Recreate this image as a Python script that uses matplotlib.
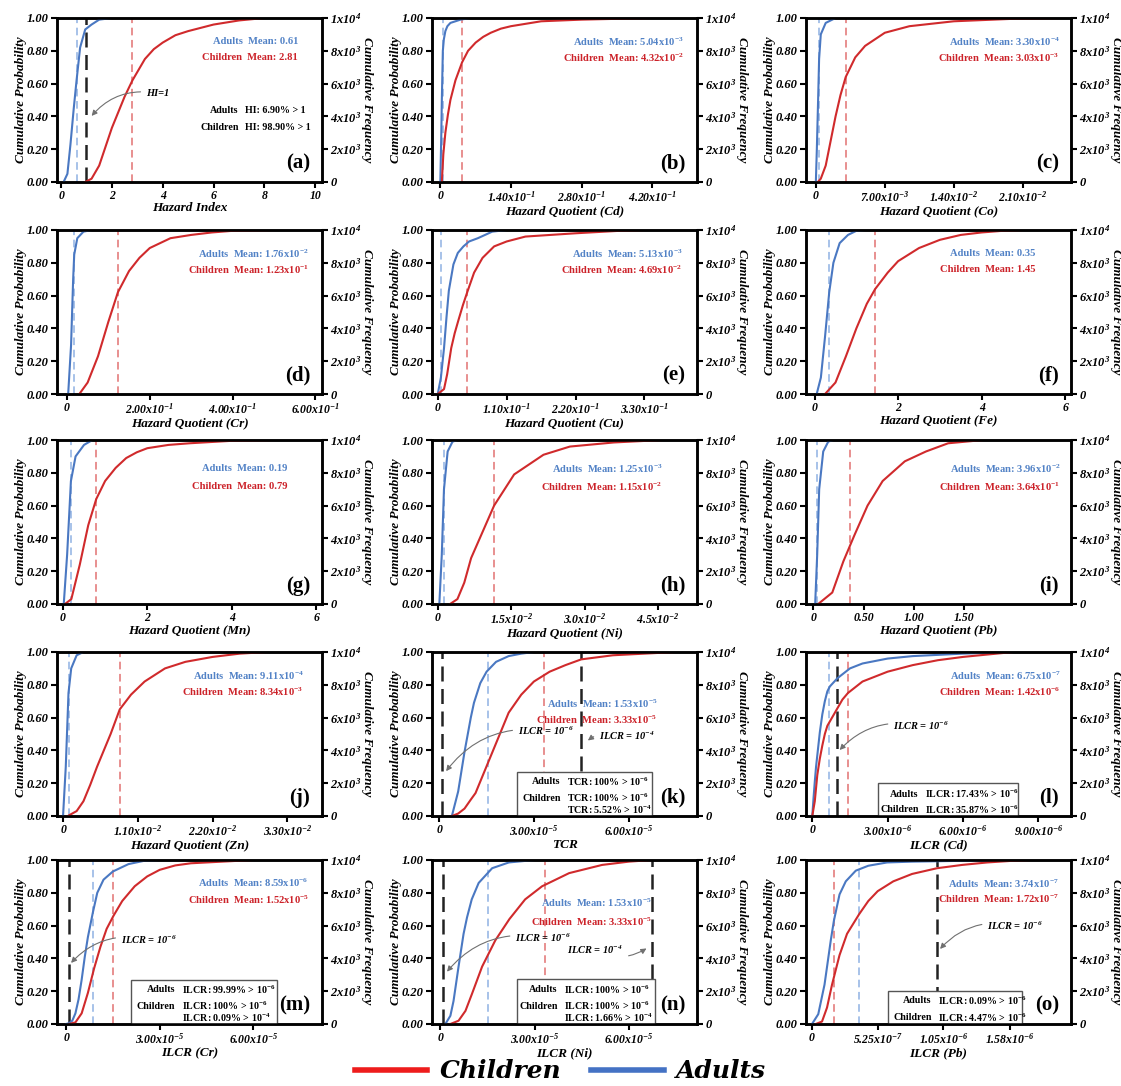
import matplotlib
matplotlib.use("Agg")
import matplotlib.pyplot as plt
import numpy as np
from matplotlib.lines import Line2D
from matplotlib.patches import Rectangle

plt.rcParams["font.family"] = "Liberation Serif"
plt.rcParams["mathtext.default"] = "regular"

# ---------------------------------------------------------------- data
panel_keys = list("abcdefghijklmno")
x_titles = ["Hazard Index", "Hazard Quotient (Cd)", "Hazard Quotient (Co)",
            "Hazard Quotient (Cr)", "Hazard Quotient (Cu)", "Hazard Quotient (Fe)",
            "Hazard Quotient (Mn)", "Hazard Quotient (Ni)", "Hazard Quotient (Pb)",
            "Hazard Quotient (Zn)", "TCR", "ILCR (Cd)", "ILCR (Cr)", "ILCR (Ni)",
            "ILCR (Pb)"]

adults_mean = [0.61, 5.04e-3, 3.30e-4, 1.76e-2, 5.13e-3, 0.35, 0.19, 1.25e-3,
               3.96e-2, 9.11e-4, 1.53e-5, 6.75e-7, 8.59e-6, 1.53e-5, 3.74e-7]
children_mean = [2.81, 4.32e-2, 3.03e-3, 1.23e-1, 4.69e-2, 1.45, 0.79, 1.15e-2,
                 3.64e-1, 8.34e-3, 3.33e-5, 1.42e-6, 1.52e-5, 3.33e-5, 1.72e-7]
plain_means = ["a", "f", "g"]

# cumulative probability curves (x, p)
a_adults_x = [0.1, 0.25, 0.37, 0.5, 0.61, 0.75, 0.95, 1.2, 1.5, 2.0]
a_adults_p = [0, 0.05, 0.23, 0.45, 0.62, 0.82, 0.93, 0.96, 0.99, 1.0]
a_children_x = [0.95, 1.2, 1.5, 2.0, 2.5, 2.81, 3.3, 3.65, 4.0, 4.5, 5.0, 6.0,
                7.0, 8.0]
a_children_p = [0, 0.02, 0.1, 0.33, 0.52, 0.62, 0.75, 0.81, 0.85, 0.895, 0.92,
                0.96, 0.985, 1.0]

b_adults_x = [0, 0.002, 0.003, 0.005, 0.007, 0.01, 0.014, 0.02, 0.04, 0.06]
b_adults_p = [0, 0.3, 0.5, 0.8, 0.87, 0.92, 0.95, 0.97, 0.99, 1.0]
b_children_x = [0.003, 0.006, 0.01, 0.015, 0.02, 0.03, 0.0432, 0.055, 0.07, 0.085,
                0.1, 0.12, 0.14, 0.2, 0.28, 0.35, 0.42]
b_children_p = [0, 0.17, 0.3, 0.41, 0.5, 0.62, 0.73, 0.8, 0.85, 0.885, 0.91,
                0.935, 0.95, 0.98, 0.99, 0.995, 1.0]

c_adults_x = [0, 1e-4, 2.5e-4, 3.3e-4, 5e-4, 1e-3, 2e-3]
c_adults_p = [0, 0.2, 0.55, 0.75, 0.9, 0.97, 1.0]
c_children_x = [2e-4, 5e-4, 1e-3, 1.5e-3, 2e-3, 2.5e-3, 3.03e-3, 4e-3, 5e-3,
                7e-3, 9.5e-3, 1.4e-2, 2e-2, 2.5e-2]
c_children_p = [0, 0.02, 0.1, 0.25, 0.4, 0.53, 0.64, 0.76, 0.83, 0.91, 0.95,
                0.98, 0.995, 1.0]

d_adults_x = [0.003, 0.01, 0.015, 0.0176, 0.025, 0.04, 0.06]
d_adults_p = [0, 0.3, 0.7, 0.85, 0.95, 0.99, 1.0]
d_children_x = [0.03, 0.05, 0.075, 0.1, 0.123, 0.15, 0.175, 0.2, 0.25, 0.3, 0.35,
                0.4, 0.5]
d_children_p = [0, 0.07, 0.23, 0.44, 0.62, 0.75, 0.83, 0.89, 0.95, 0.97, 0.985,
                0.995, 1.0]

e_adults_x = [0, 0.005, 0.01, 0.014, 0.0177, 0.025, 0.032, 0.041, 0.05, 0.064,
              0.087, 0.11]
e_adults_p = [0, 0.1, 0.28, 0.47, 0.63, 0.79, 0.86, 0.9, 0.93, 0.95, 0.99, 1.0]
e_children_x = [0, 0.01, 0.015, 0.0215, 0.027, 0.033, 0.04, 0.047, 0.058, 0.0715,
                0.09, 0.11, 0.14, 0.22, 0.29, 0.33]
e_children_p = [0, 0.03, 0.12, 0.28, 0.37, 0.45, 0.54, 0.62, 0.74, 0.83, 0.9,
                0.93, 0.96, 0.98, 0.995, 1.0]

f_adults_x = [0.05, 0.15, 0.25, 0.35, 0.45, 0.6, 0.8, 1.0, 1.2]
f_adults_p = [0, 0.1, 0.35, 0.62, 0.8, 0.92, 0.97, 0.995, 1.0]
f_children_x = [0.25, 0.5, 0.75, 1.0, 1.25, 1.45, 1.75, 2.0, 2.5, 3.0, 3.5, 4.0,
                4.5, 5.0]
f_children_p = [0, 0.07, 0.23, 0.4, 0.55, 0.64, 0.74, 0.81, 0.89, 0.94, 0.97,
                0.985, 0.995, 1.0]

g_adults_x = [0.02, 0.1, 0.19, 0.3, 0.5, 0.7]
g_adults_p = [0, 0.3, 0.75, 0.9, 0.97, 1.0]
g_children_x = [0.05, 0.2, 0.4, 0.6, 0.79, 1.0, 1.25, 1.5, 1.75, 2.0, 2.5, 3.0,
                4.0, 5.0]
g_children_p = [0, 0.03, 0.24, 0.48, 0.64, 0.75, 0.83, 0.89, 0.925, 0.95, 0.97,
                0.98, 0.995, 1.0]

h_adults_x = [0.0003, 0.0008, 0.00125, 0.002, 0.003, 0.004]
h_adults_p = [0, 0.3, 0.7, 0.93, 0.99, 1.0]
h_children_x = [0.0025, 0.004, 0.0054, 0.0068, 0.0115, 0.0156, 0.0216, 0.027,
                0.036, 0.046]
h_children_p = [0, 0.03, 0.13, 0.28, 0.6, 0.79, 0.91, 0.96, 0.985, 1.0]

i_adults_x = [0.02, 0.04, 0.06, 0.1, 0.15, 0.2]
i_adults_p = [0, 0.3, 0.7, 0.93, 0.99, 1.0]
i_children_x = [0.05, 0.19, 0.3, 0.41, 0.54, 0.69, 0.91, 1.12, 1.34, 1.69]
i_children_p = [0, 0.07, 0.26, 0.42, 0.6, 0.75, 0.87, 0.93, 0.98, 1.0]

j_adults_x = [0, 0.0004, 0.0008, 0.0012, 0.002, 0.003]
j_adults_p = [0, 0.3, 0.75, 0.9, 0.98, 1.0]
j_children_x = [0.0007, 0.002, 0.003, 0.004, 0.005, 0.006, 0.007, 0.00834, 0.01,
                0.012, 0.015, 0.018, 0.022, 0.026, 0.03]
j_children_p = [0, 0.03, 0.09, 0.19, 0.3, 0.4, 0.5, 0.65, 0.74, 0.82, 0.9, 0.94,
                0.97, 0.99, 1.0]

k_adults_x = [4e-6, 6e-6, 8e-6, 1.0e-5, 1.1e-5, 1.3e-5, 1.5e-5, 1.8e-5, 2.2e-5,
              2.6e-5, 3.0e-5]
k_adults_p = [0, 0.15, 0.39, 0.6, 0.69, 0.81, 0.88, 0.94, 0.975, 0.99, 1.0]
k_children_x = [4e-6, 6e-6, 8e-6, 1.0e-5, 1.15e-5, 1.3e-5, 1.6e-5, 1.9e-5, 2.2e-5,
                2.6e-5, 3.0e-5, 3.5e-5, 4.0e-5, 4.5e-5, 5.5e-5, 6.5e-5, 7.5e-5]
k_children_p = [0, 0.015, 0.045, 0.1, 0.14, 0.21, 0.35, 0.49, 0.63, 0.74, 0.82,
                0.88, 0.92, 0.955, 0.98, 0.99, 1.0]

l_adults_x = [0, 5e-8, 1e-7, 1.5e-7, 2e-7, 3e-7, 4e-7, 5e-7, 6e-7, 7e-7, 1e-6,
              1.5e-6, 2e-6, 3e-6, 4e-6, 6e-6, 8e-6]
l_adults_p = [0, 0.11, 0.21, 0.3, 0.37, 0.51, 0.62, 0.7, 0.76, 0.79, 0.84, 0.9,
              0.93, 0.96, 0.975, 0.99, 1.0]
l_children_x = [0, 1e-7, 2e-7, 3e-7, 4e-7, 5e-7, 6e-7, 9e-7, 1.2e-6, 1.42e-6,
                2e-6, 3e-6, 4e-6, 5e-6, 6e-6, 7e-6, 8e-6]
l_children_p = [0, 0.09, 0.25, 0.35, 0.43, 0.5, 0.55, 0.63, 0.71, 0.75, 0.82,
                0.88, 0.92, 0.95, 0.97, 0.985, 1.0]

m_adults_x = [0, 1e-6, 2e-6, 3e-6, 4e-6, 5e-6, 6e-6, 7e-6, 8.59e-6, 1.0e-5,
              1.2e-5, 1.5e-5, 2.0e-5, 2.5e-5, 3.0e-5]
m_adults_p = [0, 0.005, 0.02, 0.065, 0.15, 0.27, 0.41, 0.53, 0.68, 0.8, 0.88,
              0.93, 0.975, 0.995, 1.0]
m_children_x = [1e-6, 3e-6, 5e-6, 7e-6, 9e-6, 1.1e-5, 1.3e-5, 1.52e-5, 1.8e-5,
                2.2e-5, 2.6e-5, 3.0e-5, 3.5e-5, 4.0e-5, 5e-5, 6e-5]
m_children_p = [0, 0.01, 0.065, 0.19, 0.34, 0.47, 0.58, 0.66, 0.75, 0.84, 0.9,
                0.94, 0.967, 0.98, 0.99, 1.0]

n_adults_x = [1.6e-6, 3.2e-6, 4.2e-6, 5.8e-6, 7.4e-6, 8.5e-6, 1.0e-5, 1.22e-5,
              1.65e-5, 2.18e-5, 3.0e-5]
n_adults_p = [0, 0.05, 0.14, 0.35, 0.55, 0.65, 0.76, 0.86, 0.95, 0.985, 1.0]
n_children_x = [3.2e-6, 5.8e-6, 8e-6, 1.0e-5, 1.33e-5, 1.75e-5, 2.2e-5, 2.7e-5,
                3.24e-5, 4.1e-5, 5.15e-5, 6.0e-5, 6.74e-5]
n_children_p = [0, 0.02, 0.08, 0.18, 0.35, 0.51, 0.64, 0.76, 0.84, 0.92, 0.97,
                0.99, 1.0]

o_adults_x = [0, 5e-8, 1e-7, 1.5e-7, 1.75e-7, 2.2e-7, 2.7e-7, 3.5e-7, 4.5e-7,
              6e-7, 8e-7, 1.2e-6, 1.6e-6]
o_adults_p = [0, 0.06, 0.24, 0.51, 0.63, 0.79, 0.87, 0.935, 0.965, 0.985, 0.99,
              0.995, 1.0]
o_children_x = [3e-8, 8e-8, 1.2e-7, 1.6e-7, 2.2e-7, 2.8e-7, 3.77e-7, 4.5e-7,
                5.25e-7, 6.5e-7, 8e-7, 1.0e-6, 1.2e-6, 1.4e-6, 1.6e-6, 1.75e-6]
o_children_p = [0, 0.015, 0.1, 0.24, 0.42, 0.55, 0.67, 0.75, 0.81, 0.87, 0.915,
                0.95, 0.97, 0.985, 0.995, 1.0]

adults_curves = [(a_adults_x, a_adults_p), (b_adults_x, b_adults_p),
                 (c_adults_x, c_adults_p), (d_adults_x, d_adults_p),
                 (e_adults_x, e_adults_p), (f_adults_x, f_adults_p),
                 (g_adults_x, g_adults_p), (h_adults_x, h_adults_p),
                 (i_adults_x, i_adults_p), (j_adults_x, j_adults_p),
                 (k_adults_x, k_adults_p), (l_adults_x, l_adults_p),
                 (m_adults_x, m_adults_p), (n_adults_x, n_adults_p),
                 (o_adults_x, o_adults_p)]
children_curves = [(a_children_x, a_children_p), (b_children_x, b_children_p),
                   (c_children_x, c_children_p), (d_children_x, d_children_p),
                   (e_children_x, e_children_p), (f_children_x, f_children_p),
                   (g_children_x, g_children_p), (h_children_x, h_children_p),
                   (i_children_x, i_children_p), (j_children_x, j_children_p),
                   (k_children_x, k_children_p), (l_children_x, l_children_p),
                   (m_children_x, m_children_p), (n_children_x, n_children_p),
                   (o_children_x, o_children_p)]

x_ticks = [[0, 2, 4, 6, 8, 10], [0, 0.14, 0.28, 0.42], [0, 0.007, 0.014, 0.021],
           [0, 0.2, 0.4, 0.6], [0, 0.11, 0.22, 0.33], [0, 2, 4, 6], [0, 2, 4, 6],
           [0, 0.015, 0.03, 0.045], [0, 0.5, 1.0, 1.5], [0, 0.011, 0.022, 0.033],
           [0, 3e-5, 6e-5], [0, 3e-6, 6e-6, 9e-6], [0, 3e-5, 6e-5], [0, 3e-5, 6e-5],
           [0, 5.25e-7, 1.05e-6, 1.58e-6]]
x_tick_labels = [
    ["0", "2", "4", "6", "8", "10"],
    ["0", "1.40x10$^{-1}$", "2.80x10$^{-1}$", "4.20x10$^{-1}$"],
    ["0", "7.00x10$^{-3}$", "1.40x10$^{-2}$", "2.10x10$^{-2}$"],
    ["0", "2.00x10$^{-1}$", "4.00x10$^{-1}$", "6.00x10$^{-1}$"],
    ["0", "1.10x10$^{-1}$", "2.20x10$^{-1}$", "3.30x10$^{-1}$"],
    ["0", "2", "4", "6"],
    ["0", "2", "4", "6"],
    ["0", "1.5x10$^{-2}$", "3.0x10$^{-2}$", "4.5x10$^{-2}$"],
    ["0", "0.50", "1.00", "1.50"],
    ["0", "1.10x10$^{-2}$", "2.20x10$^{-2}$", "3.30x10$^{-2}$"],
    ["0", "3.00x10$^{-5}$", "6.00x10$^{-5}$"],
    ["0", "3.00x10$^{-6}$", "6.00x10$^{-6}$", "9.00x10$^{-6}$"],
    ["0", "3.00x10$^{-5}$", "6.00x10$^{-5}$"],
    ["0", "3.00x10$^{-5}$", "6.00x10$^{-5}$"],
    ["0", "5.25x10$^{-7}$", "1.05x10$^{-6}$", "1.58x10$^{-6}$"],
]
y_ticks = [0, 0.2, 0.4, 0.6, 0.8, 1.0]
freq_ticks = [0, 2000, 4000, 6000, 8000, 10000]
freq_tick_labels = ["0", "2x10$^{3}$", "4x10$^{3}$", "6x10$^{3}$", "8x10$^{3}$",
                    "1x10$^{4}$"]

# guide lines (HI = 1, ILCR limits)
limit_lines = [[1.0], [], [], [], [], [], [], [], [], [],
               [1e-6, 4.49e-5], [1e-6], [1e-6], [1e-6, 6.74e-5], [1e-6]]

# exceedance summaries
a_rows = [("Adults", "HI: 6.90% > 1"), ("Children", "HI: 98.90% > 1")]
k_rows = [("Adults", "TCR: 100% > 10$^{-6}$"), ("Children", "TCR: 100% > 10$^{-6}$"),
          ("", "TCR: 5.52% > 10$^{-4}$")]
l_rows = [("Adults", "ILCR: 17.43% > 10$^{-6}$"),
          ("Children", "ILCR: 35.87% > 10$^{-6}$")]
m_rows = [("Adults", "ILCR: 99.99% > 10$^{-6}$"),
          ("Children", "ILCR: 100% > 10$^{-6}$"), ("", "ILCR: 0.09% > 10$^{-4}$")]
n_rows = [("Adults", "ILCR: 100% > 10$^{-6}$"),
          ("Children", "ILCR: 100% > 10$^{-6}$"), ("", "ILCR: 1.66% > 10$^{-4}$")]
o_rows = [("Adults", "ILCR: 0.09% > 10$^{-6}$"),
          ("Children", "ILCR: 4.47% > 10$^{-6}$")]

# ---------------------------------------------------------------- layout / style
blue = "#4a78c2"
red = "#d02a2c"
blue_mean = "#8fb2e3"
red_mean = "#e27272"
blue_text = "#5282c6"
red_text = "#cc2229"

x_limits = [(-0.16, 10.27), (-0.0165, 0.509), (-0.001, 0.0259), (-0.024, 0.616),
            (-0.0092, 0.414), (-0.206, 6.14), (-0.14, 6.14), (-0.0012, 0.053),
            (-0.071, 2.56), (-0.00089, 0.0381), (-2.3e-6, 8.17e-5),
            (-2.5e-7, 1.03e-5), (-2.9e-6, 8.2e-5), (-2.65e-6, 8.17e-5),
            (-4.8e-8, 2.07e-6)]
mean_text_x = [0.91, 0.95, 0.956, 0.95, 0.945, 0.865, 0.87, 0.87, 0.96, 0.93,
               0.85, 0.96, 0.95, 0.83, 0.955]
mean_text_y = [(0.86, 0.765)] * 6 + [(0.83, 0.72)] * 3 + [(0.86, 0.765)] + \
              [(0.69, 0.59), (0.86, 0.765), (0.865, 0.765), (0.745, 0.63),
               (0.863, 0.767)]

# summary blocks: rows, split x, row y's, box (x0, x1, top) or None
summaries = {
    "a": (a_rows, 0.71, [0.44, 0.34], None),
    "k": (k_rows, 0.51, [0.215, 0.115, 0.045], (0.32, 0.83, 0.27)),
    "l": (l_rows, 0.45, [0.14, 0.045], (0.27, 0.80, 0.20)),
    "m": (m_rows, 0.47, [0.215, 0.115, 0.045], (0.28, 0.83, 0.27)),
    "n": (n_rows, 0.50, [0.215, 0.115, 0.045], (0.32, 0.84, 0.275)),
    "o": (o_rows, 0.50, [0.15, 0.045], (0.31, 0.815, 0.20)),
}
# guide line callouts: text, text position, arrow tip (axes fraction)
callouts = {
    "a": [("HI=1", (0.38, 0.54), (0.124, 0.39))],
    "k": [("ILCR = 10$^{-6}$", (0.43, 0.52), (0.047, 0.26)),
          ("ILCR = 10$^{-4}$", (0.735, 0.49), (0.58, 0.45))],
    "l": [("ILCR = 10$^{-6}$", (0.435, 0.547), (0.12, 0.39))],
    "m": [("ILCR = 10$^{-6}$", (0.347, 0.514), (0.046, 0.36))],
    "n": [("ILCR = 10$^{-6}$", (0.42, 0.527), (0.05, 0.306)),
          ("ILCR = 10$^{-4}$", (0.616, 0.45), (0.818, 0.47))],
    "o": [("ILCR = 10$^{-6}$", (0.79, 0.6), (0.499, 0.445))],
}


def sci(v, digits=2):
    exp = int(np.floor(np.log10(abs(v))))
    return f"{v / 10 ** exp:.{digits}f}x10$^{{{exp}}}$"


bi = dict(fontweight="bold", fontstyle="italic")

fig = plt.figure(figsize=(11.21, 10.86), dpi=100)
col_left = [57, 432, 806]
row_top = [18, 230, 440, 652, 860]
W, H = 265, 164

for i, key in enumerate(panel_keys):
    r, c = divmod(i, 3)
    ax = fig.add_axes([col_left[c] / 1121, 1 - (row_top[r] + H) / 1086,
                       W / 1121, H / 1086])
    ax2 = ax.twinx()

    ax.plot(*adults_curves[i], color=blue, lw=1.5, zorder=3)
    ax.plot(*children_curves[i], color=red, lw=1.5, zorder=3)
    ax.axvline(adults_mean[i], color=blue_mean, lw=1.1, ls=(0, (5, 3)), zorder=2)
    ax.axvline(children_mean[i], color=red_mean, lw=1.1, ls=(0, (5, 3)), zorder=2)
    for v in limit_lines[i]:
        ax.axvline(v, color="#222222", lw=1.8, ls=(0, (6, 3)), zorder=2)

    ax.set_xlim(*x_limits[i])
    ax.set_ylim(0, 1)
    ax.set_xticks(x_ticks[i])
    ax.set_xticklabels(x_tick_labels[i], fontsize=8.5, **bi)
    ax.set_yticks(y_ticks)
    ax.set_yticklabels([f"{v:.2f}" for v in y_ticks], fontsize=9, **bi)
    ax.set_xlabel(x_titles[i], fontsize=9.5, labelpad=0, **bi)
    ax.set_ylabel("Cumulative Probability", fontsize=9.5, labelpad=0, **bi)

    ax2.set_ylim(0, 10000)
    ax2.set_yticks(freq_ticks)
    ax2.set_yticklabels(freq_tick_labels, fontsize=9, **bi)
    ax2.set_ylabel("Cumulative Frequency", fontsize=9.5, rotation=270,
                   labelpad=8, **bi)
    for a in (ax, ax2):
        for s in a.spines.values():
            s.set_linewidth(1.8)
        a.tick_params(width=1.5, length=4, pad=2)

    # mean labels
    if key in plain_means:
        am, cm = f"{adults_mean[i]:.2f}", f"{children_mean[i]:.2f}"
    else:
        am, cm = sci(adults_mean[i]), sci(children_mean[i])
    ya, yc = mean_text_y[i]
    ax.text(mean_text_x[i], ya, f"Adults  Mean: {am}", transform=ax.transAxes,
            ha="right", va="center_baseline", fontsize=7.6, fontweight="bold",
            color=blue_text, zorder=6)
    ax.text(mean_text_x[i], yc, f"Children  Mean: {cm}", transform=ax.transAxes,
            ha="right", va="center_baseline", fontsize=7.6, fontweight="bold",
            color=red_text, zorder=6)

    if key in summaries:
        rows, xs, ys, box = summaries[key]
        if box is not None:
            x0, x1, top = box
            ax.add_patch(Rectangle((x0, 0), x1 - x0, top, transform=ax.transAxes,
                                   facecolor="white", edgecolor="#555555", lw=1.0,
                                   zorder=5))
        for (name, stmt), y in zip(rows, ys):
            if name:
                ax.text(xs - 0.025, y, name, transform=ax.transAxes, ha="right",
                        va="center_baseline", fontsize=7.2, fontweight="bold",
                        zorder=6)
            ax.text(xs, y, stmt, transform=ax.transAxes, ha="left",
                    va="center_baseline", fontsize=7.2, fontweight="bold", zorder=6)

    for txt, pos, tip in callouts.get(key, []):
        ax.annotate(txt, xy=tip, xytext=pos, xycoords="axes fraction",
                    textcoords="axes fraction", ha="center", va="center",
                    fontsize=7.5, zorder=6, **bi,
                    arrowprops=dict(arrowstyle="-|>", color="#707070", lw=0.8,
                                    mutation_scale=8,
                                    connectionstyle="arc3,rad=0.3"))

    ax.text(0.955, 0.05, f"({key})", transform=ax.transAxes, ha="right",
            va="bottom", fontsize=15, fontweight="bold", zorder=6)

handles = [Line2D([], [], color="#ee1c1c", lw=4),
           Line2D([], [], color="#4472c4", lw=4)]
fig.legend(handles, ["Children", "Adults"], loc="center",
           bbox_to_anchor=(0.5, 0.0135), ncol=2, frameon=False,
           prop=dict(family="DejaVu Serif", weight="bold", style="italic",
                     size=18),
           handlelength=2.9, handletextpad=0.5, columnspacing=1.2,
           borderpad=0.0)

fig.savefig("out.png", dpi=100)
